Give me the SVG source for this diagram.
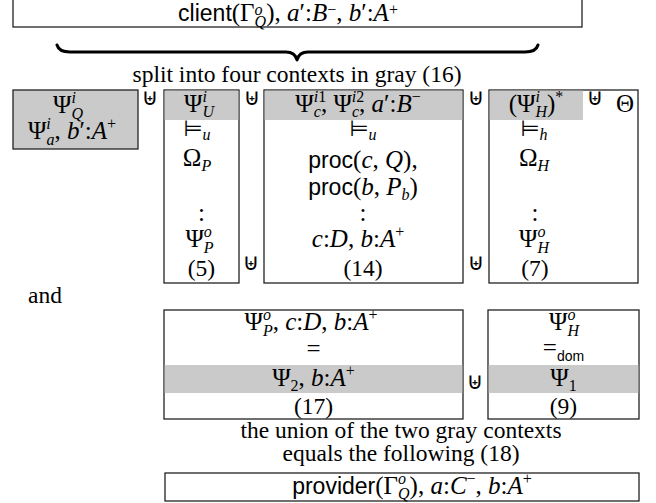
<svg xmlns="http://www.w3.org/2000/svg" width="656" height="503" viewBox="0 0 656 503">
<style>
.m{font-family:"Liberation Serif","DejaVu Serif",serif;font-size:25px;fill:#000}
.it{font-style:italic}
.sf{font-family:"Liberation Sans","DejaVu Sans",sans-serif;font-size:23px}
.sc{font-size:16px}
.sfs{font-family:"Liberation Sans","DejaVu Sans",sans-serif;font-size:14px}
.sym{font-family:"DejaVu Sans",sans-serif;font-size:22px}
.op{font-family:"DejaVu Sans",sans-serif;font-size:23px;fill:#000}
.cap{font-family:"Liberation Serif","DejaVu Serif",serif;font-size:23.5px;fill:#000}
.box{fill:#fff;stroke:#222;stroke-width:1.3}
.gray{fill:#cacaca}
.gbox{fill:#cacaca;stroke:#222;stroke-width:1.3}
.brace{fill:none;stroke:#000;stroke-width:3;stroke-linecap:round;stroke-linejoin:round}
</style>
<rect width="656" height="503" fill="#fff"/>

<g id="client">
<rect class="box" x="13" y="-2" width="569" height="29"/>
<text class="m" x="288" y="21" text-anchor="middle"><tspan class="sf">client</tspan>(Γ<tspan class="sc it" dy="-6.5">o</tspan><tspan class="sc it" dx="-8" dy="12.5">Q</tspan><tspan dy="-6">), </tspan><tspan class="it">a</tspan>′:<tspan class="it">B</tspan><tspan class="sc" dy="-6.5">−</tspan><tspan dy="6.5">, </tspan><tspan class="it">b</tspan>′:<tspan class="it">A</tspan><tspan class="sc" dy="-6.5">+</tspan></text>
</g>

<g id="connectors">
<path class="brace" d="M57,45 Q59,52 70,52 L286,52 Q295,52 297,60 Q299,52 308,52 L525,52 Q536,52 538,45"/>
</g>

<g id="caption-split">
<text class="cap" x="297" y="82" text-anchor="middle">split into four contexts in gray (16)</text>
</g>

<g id="ctx-Q">
<rect class="gbox" x="13" y="90" width="125" height="59"/>
<text class="m" x="68" y="113" text-anchor="middle">Ψ<tspan class="sc it" dy="-10">i</tspan><tspan class="sc it" dx="-4.4" dy="16">Q</tspan></text>
<text class="m" x="72" y="139" text-anchor="middle">Ψ<tspan class="sc it" dy="-10">i</tspan><tspan class="sc it" dx="-4.4" dy="16">a</tspan><tspan dy="-6">, </tspan><tspan class="it">b</tspan>′:<tspan class="it">A</tspan><tspan class="sc" dy="-10">+</tspan></text>
</g>

<g id="ctx-U">
<rect class="box" x="164" y="90" width="75" height="193"/>
<rect class="gray" x="164.7" y="90.7" width="73.6" height="29.3"/>
<text class="m" x="199" y="112" text-anchor="middle">Ψ<tspan class="sc it" dy="-10">i</tspan><tspan class="sc it" dx="-4.4" dy="15">U</tspan></text>
<text class="m" x="197" y="136" text-anchor="middle"><tspan class="sym">⊨</tspan><tspan class="sc it" dy="4">u</tspan></text>
<text class="m" x="197" y="166" text-anchor="middle">Ω<tspan class="sc it" dy="5">P</tspan></text>
<text class="m" x="201.5" y="221" text-anchor="middle">:</text>
<text class="m" x="199.5" y="247" text-anchor="middle">Ψ<tspan class="sc it" dy="-10">o</tspan><tspan class="sc it" dx="-8" dy="16">P</tspan></text>
<text class="cap" x="201.5" y="276" text-anchor="middle">(5)</text>
</g>

<g id="ctx-c">
<rect class="box" x="264" y="90" width="199" height="193"/>
<rect class="gray" x="264.7" y="90.7" width="197.6" height="29.3"/>
<text class="m" x="358" y="112" text-anchor="middle">Ψ<tspan class="sc" dy="-10"><tspan class="it">i</tspan>1</tspan><tspan class="sc it" dx="-12.4" dy="15">c</tspan><tspan dy="-5">, Ψ</tspan><tspan class="sc" dy="-10"><tspan class="it">i</tspan>2</tspan><tspan class="sc it" dx="-12.4" dy="15">c</tspan><tspan dy="-5">, </tspan><tspan class="it">a</tspan>′:<tspan class="it">B</tspan><tspan class="sc" dy="-10">−</tspan></text>
<text class="m" x="363" y="136" text-anchor="middle"><tspan class="sym">⊨</tspan><tspan class="sc it" dy="4">u</tspan></text>
<text class="m" x="363" y="168" text-anchor="middle"><tspan class="sf">proc</tspan>(<tspan class="it">c</tspan>, <tspan class="it">Q</tspan>),</text>
<text class="m" x="363" y="195" text-anchor="middle"><tspan class="sf">proc</tspan>(<tspan class="it">b</tspan>, <tspan class="it">P</tspan><tspan class="sc it" dy="5">b</tspan><tspan dy="-5">)</tspan></text>
<text class="m" x="363" y="221" text-anchor="middle">:</text>
<text class="m" x="358" y="247" text-anchor="middle"><tspan class="it">c</tspan>:<tspan class="it">D</tspan>, <tspan class="it">b</tspan>:<tspan class="it">A</tspan><tspan class="sc" dy="-10">+</tspan></text>
<text class="cap" x="363" y="276" text-anchor="middle">(14)</text>
</g>

<g id="ctx-H">
<rect class="box" x="489" y="90" width="149" height="193"/>
<rect class="gray" x="489.7" y="90.7" width="93.3" height="29.3"/>
<text class="m" x="536" y="112" text-anchor="middle">(Ψ<tspan class="sc it" dy="-10">i</tspan><tspan class="sc it" dx="-4.4" dy="15">H</tspan><tspan dy="-5">)</tspan><tspan class="sc" dy="-10">*</tspan></text>
<text class="op" x="595" y="105" text-anchor="middle">⊎</text>
<text class="m" x="625" y="112" text-anchor="middle">Θ</text>
<text class="m" x="534" y="136" text-anchor="middle"><tspan class="sym">⊨</tspan><tspan class="sc it" dy="4">h</tspan></text>
<text class="m" x="534" y="166" text-anchor="middle">Ω<tspan class="sc it" dy="5">H</tspan></text>
<text class="m" x="535" y="221" text-anchor="middle">:</text>
<text class="m" x="534" y="247" text-anchor="middle">Ψ<tspan class="sc it" dy="-10">o</tspan><tspan class="sc it" dx="-8" dy="16">H</tspan></text>
<text class="cap" x="535" y="276" text-anchor="middle">(7)</text>
</g>

<g id="operators">
<text class="op" x="150" y="105" text-anchor="middle">⊎</text>
<text class="op" x="252" y="105" text-anchor="middle">⊎</text>
<text class="op" x="476" y="105" text-anchor="middle">⊎</text>
<text class="op" x="251" y="270" text-anchor="middle">⊎</text>
<text class="op" x="476" y="270" text-anchor="middle">⊎</text>
<text class="op" x="475" y="389" text-anchor="middle">⊎</text>
</g>

<g id="and">
<text class="cap" x="28" y="303">and</text>
</g>

<g id="ctx-P2">
<rect class="box" x="164" y="310" width="299" height="109"/>
<rect class="gray" x="164.7" y="365" width="297.6" height="28"/>
<text class="m" x="311" y="330" text-anchor="middle">Ψ<tspan class="sc it" dy="-10">o</tspan><tspan class="sc it" dx="-8" dy="16">P</tspan><tspan dy="-6">, </tspan><tspan class="it">c</tspan>:<tspan class="it">D</tspan>, <tspan class="it">b</tspan>:<tspan class="it">A</tspan><tspan class="sc" dy="-10">+</tspan></text>
<text class="m" x="313.5" y="357" text-anchor="middle">=</text>
<text class="m" x="313.5" y="386" text-anchor="middle">Ψ<tspan class="sc" dy="5">2</tspan><tspan dy="-5">, </tspan><tspan class="it">b</tspan>:<tspan class="it">A</tspan><tspan class="sc" dy="-10">+</tspan></text>
<text class="cap" x="313.5" y="414" text-anchor="middle">(17)</text>
</g>

<g id="ctx-H2">
<rect class="box" x="488" y="310" width="151" height="109"/>
<rect class="gray" x="488.7" y="365" width="149.6" height="28"/>
<text class="m" x="564" y="330" text-anchor="middle">Ψ<tspan class="sc it" dy="-10">o</tspan><tspan class="sc it" dx="-8" dy="16">H</tspan></text>
<text class="m" x="563.5" y="356" text-anchor="middle">=<tspan class="sfs" dy="5">dom</tspan></text>
<text class="m" x="563.5" y="386" text-anchor="middle">Ψ<tspan class="sc" dy="5">1</tspan></text>
<text class="cap" x="563.5" y="414" text-anchor="middle">(9)</text>
</g>

<g id="caption-union">
<text class="cap" x="401" y="438" text-anchor="middle">the union of the two gray contexts</text>
<text class="cap" x="401" y="461" text-anchor="middle">equals the following (18)</text>
</g>

<g id="provider">
<rect class="box" x="165" y="473" width="474" height="28"/>
<text class="m" x="412" y="494" text-anchor="middle"><tspan class="sf">provider</tspan>(Γ<tspan class="sc it" dy="-10">o</tspan><tspan class="sc it" dx="-8" dy="15">Q</tspan><tspan dy="-5">), </tspan><tspan class="it">a</tspan>:<tspan class="it">C</tspan><tspan class="sc" dy="-10">−</tspan><tspan dy="10">, </tspan><tspan class="it">b</tspan>:<tspan class="it">A</tspan><tspan class="sc" dy="-10">+</tspan></text>
</g>
</svg>
